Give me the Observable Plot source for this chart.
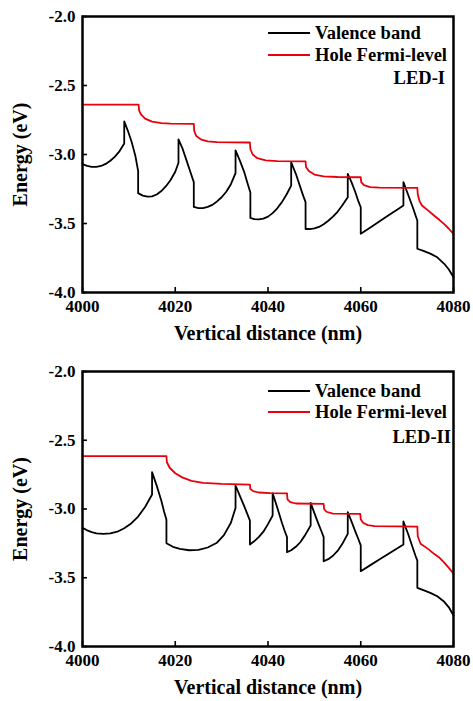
<!DOCTYPE html>
<html><head><meta charset="utf-8">
<script src="https://cdn.jsdelivr.net/npm/d3@7"></script>
<script src="https://cdn.jsdelivr.net/npm/@observablehq/plot@0.6"></script>
<style>
body{margin:0;background:#fff;}
#chart{width:473px;}
#chart svg{display:block;}
#chart svg, #chart svg text{font-family:"Liberation Serif","Times New Roman",Times,serif !important;font-weight:bold;}
</style></head><body><div id="chart"></div>
<script>
const xTicks = [4000, 4020, 4040, 4060, 4080];
const yTicks = [-4.0, -3.5, -3.0, -2.5, -2.0];
const legendLabels = ["Valence band", "Hole Fermi-level"];
const panelNames = ["LED-I", "LED-II"];
const xLabel = "Vertical distance (nm)";
const yLabel = "Energy (eV)";

const ledIValence = [
  [4000,-3.07],[4001,-3.083],[4002,-3.09],[4003,-3.09],[4004,-3.083],[4005,-3.068],[4006,-3.045],[4007,-3.015],[4008,-2.975],[4009,-2.92],
  [4009,-2.76],[4009.8,-2.83],[4010.6,-2.91],[4011.4,-3.01],[4012,-3.12],
  [4012,-3.28],[4013,-3.298],[4014,-3.305],[4015,-3.303],[4016,-3.29],[4017,-3.265],[4018,-3.23],[4019,-3.185],[4020,-3.125],[4020.7,-3.06],
  [4020.7,-2.89],[4021.6,-2.96],[4022.5,-3.05],[4023.3,-3.13],[4024,-3.2],
  [4024,-3.38],[4025,-3.388],[4026,-3.388],[4027,-3.38],[4028,-3.365],[4029,-3.34],[4030,-3.31],[4031,-3.27],[4032,-3.215],[4033,-3.135],
  [4033,-2.97],[4034,-3.05],[4034.9,-3.13],[4035.6,-3.21],[4036.2,-3.275],
  [4036.2,-3.46],[4037,-3.468],[4038,-3.47],[4039,-3.465],[4040,-3.45],[4041,-3.425],[4042,-3.39],[4043,-3.345],[4044,-3.29],[4045,-3.225],
  [4045,-3.056],[4046,-3.14],[4047,-3.24],[4047.6,-3.3],[4048.1,-3.345],
  [4048.1,-3.54],[4049,-3.54],[4050,-3.535],[4051,-3.525],[4052,-3.505],[4053,-3.48],[4054,-3.45],[4055,-3.415],[4056,-3.37],[4057.2,-3.31],
  [4057.2,-3.14],[4058,-3.2],[4058.8,-3.27],[4059.5,-3.34],[4060,-3.382],
  [4060,-3.575],[4062,-3.53],[4064,-3.486],[4066,-3.441],[4068,-3.397],[4069.2,-3.37],
  [4069.2,-3.2],[4070.2,-3.29],[4071.2,-3.38],[4071.8,-3.44],[4072.2,-3.478],
  [4072.2,-3.683],[4073.5,-3.698],[4075,-3.718],[4076.5,-3.745],[4078,-3.792],[4079,-3.833],[4080,-3.889]
];
const ledIFermi = [
  [4000,-2.638],[4012.1,-2.638],[4012.2,-2.68],[4012.6,-2.71],[4013.5,-2.74],[4015,-2.762],[4017,-2.772],[4019,-2.776],[4024,-2.778],
  [4024.1,-2.83],[4024.5,-2.865],[4025.5,-2.89],[4027,-2.905],[4029,-2.91],[4036.1,-2.913],
  [4036.2,-2.96],[4036.7,-3.0],[4037.7,-3.027],[4039.5,-3.042],[4042,-3.048],[4048.1,-3.05],
  [4048.2,-3.09],[4048.8,-3.12],[4050,-3.145],[4052,-3.158],[4055,-3.163],[4060,-3.165],
  [4060.1,-3.2],[4060.7,-3.222],[4062,-3.236],[4064,-3.24],[4072.2,-3.242],
  [4072.3,-3.29],[4072.7,-3.34],[4073.2,-3.37],[4074.5,-3.405],[4075.8,-3.442],[4077,-3.475],[4078,-3.505],[4079,-3.538],[4080,-3.575]
];
const ledIIValence = [
  [4000,-3.137],[4001,-3.155],[4002,-3.168],[4003,-3.177],[4004.5,-3.181],[4006,-3.178],[4007.5,-3.165],[4009,-3.14],[4010.5,-3.105],[4012,-3.055],[4013.5,-2.985],[4015,-2.895],
  [4015,-2.732],[4016,-2.83],[4017,-2.94],[4017.6,-3.02],[4018.1,-3.079],
  [4018.1,-3.249],[4019.5,-3.275],[4021,-3.29],[4023,-3.3],[4025,-3.298],[4027,-3.28],[4029,-3.245],[4030.5,-3.19],[4032,-3.1],[4033,-2.992],
  [4033,-2.829],[4034,-2.91],[4035,-2.99],[4035.7,-3.05],[4036.1,-3.084],
  [4036.1,-3.258],[4037,-3.235],[4038,-3.205],[4039,-3.165],[4040,-3.11],[4041,-3.047],
  [4041,-2.885],[4042,-2.99],[4043,-3.1],[4043.6,-3.16],[4044.1,-3.205],
  [4044.1,-3.314],[4045,-3.3],[4046,-3.275],[4047,-3.24],[4048,-3.19],[4049.2,-3.12],
  [4049.2,-2.955],[4050,-3.03],[4050.9,-3.11],[4051.5,-3.16],[4052,-3.205],
  [4052,-3.38],[4053,-3.365],[4054,-3.34],[4055,-3.305],[4056,-3.255],[4057.2,-3.181],
  [4057.2,-3.023],[4058,-3.09],[4058.9,-3.17],[4059.5,-3.22],[4060,-3.265],
  [4060,-3.452],[4062,-3.41],[4064,-3.368],[4066,-3.325],[4068,-3.283],[4069.2,-3.258],
  [4069.2,-3.091],[4070.2,-3.18],[4071.2,-3.28],[4071.8,-3.34],[4072.2,-3.375],
  [4072.2,-3.573],[4073.5,-3.59],[4075,-3.61],[4076.5,-3.635],[4078,-3.675],[4079,-3.715],[4080,-3.775]
];
const ledIIFermi = [
  [4000,-2.616],[4018.1,-2.616],[4018.2,-2.66],[4018.8,-2.7],[4020,-2.74],[4021.5,-2.77],[4023.5,-2.795],[4026,-2.81],[4030,-2.818],[4036.1,-2.822],
  [4036.2,-2.855],[4036.8,-2.87],[4038,-2.88],[4040.5,-2.885],[4044.1,-2.886],
  [4044.2,-2.93],[4044.8,-2.95],[4046,-2.96],[4052,-2.963],
  [4052.1,-3.0],[4052.6,-3.02],[4054,-3.033],[4059.9,-3.036],
  [4060,-3.075],[4060.5,-3.1],[4061.5,-3.117],[4063,-3.125],[4072.2,-3.128],
  [4072.3,-3.2],[4072.9,-3.253],[4074.5,-3.29],[4075.8,-3.326],[4077,-3.355],[4078,-3.39],[4079,-3.428],[4080,-3.471]
];

const FONT = "Liberation Serif, Times New Roman, Times, serif";
const RED = "#e8000b";

function panel(valence, fermi, name, o) {
  const W = 473, ml = 82, mr = 20;
  const innerH = o.height - o.mt - o.mb, innerW = W - ml - mr;
  const svg = Plot.plot({
    width: W, height: o.height, marginTop: o.mt, marginBottom: o.mb, marginLeft: ml, marginRight: mr,
    style: {fontFamily: FONT, fontWeight: "bold", background: "white", color: "black", overflow: "visible"},
    x: {domain: [4000, 4080]},
    y: {domain: [-4, -2]},
    marks: [
      Plot.line(valence, {x: d => d[0], y: d => d[1], stroke: "black", strokeWidth: 1.8}),
      Plot.line(fermi, {x: d => d[0], y: d => d[1], stroke: RED, strokeWidth: 1.8}),
      Plot.tickX(xTicks, {x: d => d, insetTop: innerH - 5, strokeWidth: 1.6}),
      Plot.tickY(yTicks, {y: d => d, insetRight: innerW - 5, strokeWidth: 1.6}),
      Plot.axisX({ticks: xTicks, tickSize: 0, tickPadding: 7, fontSize: 17, label: null, tickFormat: d => String(d)}),
      Plot.axisY({ticks: yTicks, tickSize: 0, tickPadding: 7, fontSize: 17, label: null, tickFormat: d => d.toFixed(1)}),
      Plot.text([xLabel], {text: d => d, frameAnchor: "bottom", textAnchor: "middle", lineAnchor: "middle", dy: 41, fontSize: 20}),
      Plot.text([yLabel], {text: d => d, frameAnchor: "left", textAnchor: "middle", lineAnchor: "middle", rotate: -90, dx: -62, fontSize: 20}),
      Plot.frame({stroke: "black", strokeWidth: 2.5})
    ]
  });
  const s = d3.select(svg);
  const g = s.append("g").attr("font-family", FONT).attr("font-weight", "bold").attr("font-size", 18.5).attr("fill", "black").attr("text-anchor", "start");
  const rows = [{c: "black", y: o.legY[0]}, {c: RED, y: o.legY[1]}];
  rows.forEach((r, i) => {
    g.append("line").attr("x1", 268).attr("x2", 310).attr("y1", r.y).attr("y2", r.y).attr("stroke", r.c).attr("stroke-width", 1.8);
    g.append("text").attr("x", 315).attr("y", r.y).attr("dy", "0.35em").attr("text-anchor", "start").text(legendLabels[i]);
  });
  g.append("text").attr("x", o.nameX).attr("y", o.legY[2]).attr("dy", "0.35em").attr("text-anchor", "end").text(name);
  return svg;
}

const chart = document.getElementById("chart");
chart.appendChild(panel(ledIValence, ledIFermi, panelNames[0], {height: 350, mt: 16, mb: 58, legY: [33, 55, 78], nameX: 445}));
chart.appendChild(panel(ledIIValence, ledIIFermi, panelNames[1], {height: 351, mt: 21, mb: 55, legY: [41, 62, 87], nameX: 451}));
</script></body></html>
